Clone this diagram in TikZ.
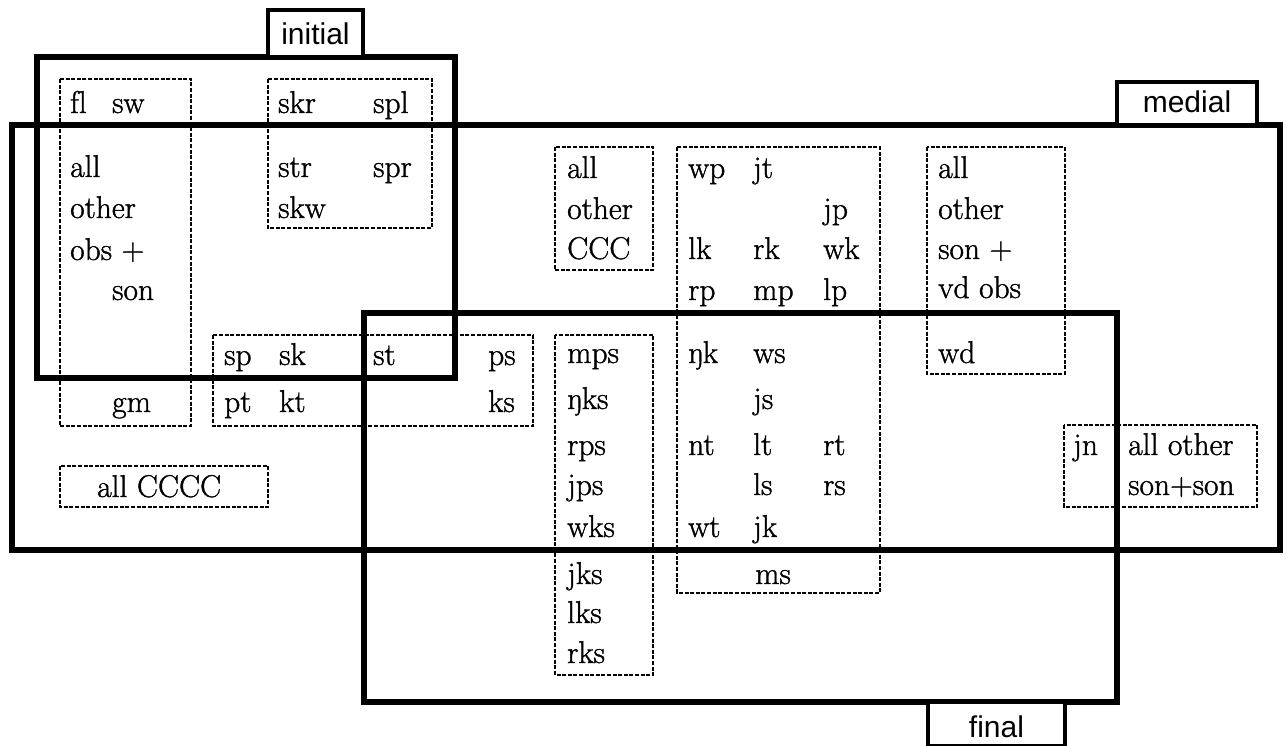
\documentclass[tikz,border=0pt]{standalone}
\usepackage{fontspec}
\newfontfamily\labfont{Liberation Sans}
\newfontfamily\wfont{Latin Modern Roman}[FakeBold=1.2]
\begin{document}
\begin{tikzpicture}[x=1pt,y=-1pt,
  thickbox/.style={line width=6pt,draw=black},
  labbox/.style={line width=4pt,draw=black,fill=white},
  dbox/.style={line width=1.6pt,draw=black,dash pattern=on 4pt off 1.6pt},
  wrd/.style={inner sep=0pt,anchor=base west,font=\wfont\fontsize{31.5}{36}\selectfont},
  lab/.style={inner sep=0pt,anchor=base,font=\labfont\fontsize{30}{36}\selectfont}]
\useasboundingbox (0,0) rectangle (1286,746);
% thick region boxes
\draw[thickbox] (37,57) rectangle (455,378);
\draw[thickbox] (12,125) rectangle (1280,550);
\draw[thickbox] (364,313) rectangle (1117,702);
% label boxes
\draw[labbox] (268,10) rectangle (363,57);
\draw[labbox] (1117,82) rectangle (1257,125);
\draw[labbox] (928,702) rectangle (1065,746);
\node[lab] (linit) at (315.5,45) {initial};
\node[lab] (lmed) at (1187,113) {medial};
\node[lab] (lfin) at (996.5,737) {final};
% dashed group boxes
\draw[dbox] (60,79) rectangle (191,426);
\draw[dbox] (268,79) rectangle (432,228);
\draw[dbox] (213,335) rectangle (533,426);
\draw[dbox] (60,466) rectangle (268,507);
\draw[dbox] (555,147) rectangle (653,270);
\draw[dbox] (677,147) rectangle (880,593);
\draw[dbox] (555,335) rectangle (653,675);
\draw[dbox] (927,147) rectangle (1065,374);
\draw[dbox] (1064,425) rectangle (1257,507);
% words
\node[wrd] (a1) at (70,113) {f\kern0pt l};
\node[wrd] (a2) at (112,113) {sw};
\node[wrd] (a3) at (278,113) {skr};
\node[wrd] (a4) at (373,113) {spl};
\node[wrd] (a5) at (70,177) {all};
\node[wrd] (a6) at (70,218) {other};
\node[wrd] (a7) at (70,260) {obs +};
\node[wrd] (a8) at (112,300) {son};
\node[wrd] (a9) at (112,412) {gm};
\node[wrd] (b1) at (278,177) {str};
\node[wrd] (b2) at (373,177) {spr};
\node[wrd] (b3) at (278,218) {skw};
\node[wrd] (c1) at (224,365) {sp};
\node[wrd] (c2) at (279,365) {sk};
\node[wrd] (c3) at (373,365) {st};
\node[wrd] (c4) at (488,365) {ps};
\node[wrd] (c5) at (224,412) {pt};
\node[wrd] (c6) at (279,412) {kt};
\node[wrd] (c7) at (488,412) {ks};
\node[wrd] (d1) at (97,497) {all CCCC};
\node[wrd] (e1) at (567,178) {all};
\node[wrd] (e2) at (567,219) {other};
\node[wrd] (e3) at (567,259) {CCC};
\node[wrd] (f1) at (688,178) {wp};
\node[wrd] (f2) at (753,178) {jt};
\node[wrd] (f3) at (823,219) {jp};
\node[wrd] (f4) at (688,259) {lk};
\node[wrd] (f5) at (753,259) {rk};
\node[wrd] (f6) at (823,259) {wk};
\node[wrd] (f7) at (688,300) {rp};
\node[wrd] (f8) at (753,300) {mp};
\node[wrd] (f9) at (823,300) {lp};
\node[wrd] (g1) at (567,363) {mps};
\node[wrd] (g2) at (567,409) {ŋks};
\node[wrd] (g3) at (567,455) {rps};
\node[wrd] (g4) at (567,495) {jps};
\node[wrd] (g5) at (567,537) {wks};
\node[wrd] (g6) at (567,584) {jks};
\node[wrd] (g7) at (567,623) {lks};
\node[wrd] (g8) at (567,663) {rks};
\node[wrd] (h1) at (688,363) {ŋk};
\node[wrd] (h2) at (753,363) {ws};
\node[wrd] (h3) at (753,409) {js};
\node[wrd] (h4) at (688,455) {nt};
\node[wrd] (h5) at (753,455) {lt};
\node[wrd] (h6) at (823,455) {rt};
\node[wrd] (h7) at (753,495) {ls};
\node[wrd] (h8) at (823,495) {rs};
\node[wrd] (h9) at (688,537) {wt};
\node[wrd] (h10) at (753,537) {jk};
\node[wrd] (h11) at (755,584) {ms};
\node[wrd] (i1) at (938,178) {all};
\node[wrd] (i2) at (938,219) {other};
\node[wrd] (i3) at (938,259) {son +};
\node[wrd] (i4) at (938,298) {vd obs};
\node[wrd] (i5) at (938,363) {wd};
\node[wrd] (j1) at (1073,455) {jn};
\node[wrd] (j2) at (1128,455) {all other};
\node[wrd] (j3) at (1128,495) {son+son};
\end{tikzpicture}
\end{document}
